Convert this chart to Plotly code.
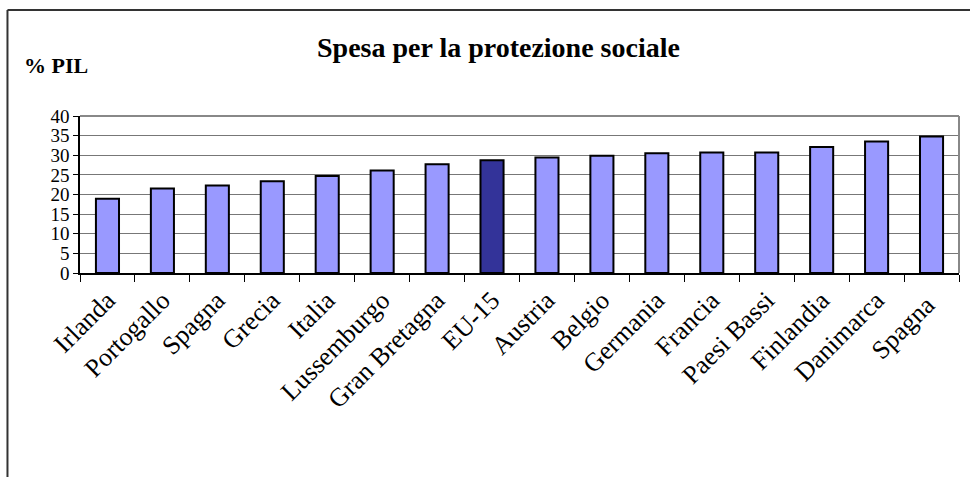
import plotly.graph_objects as go

categories = ["Irlanda", "Portogallo", "Spagna", "Grecia", "Italia", "Lussemburgo",
              "Gran Bretagna", "EU-15", "Austria", "Belgio", "Germania", "Francia",
              "Paesi Bassi", "Finlandia", "Danimarca", "Spagna "]
values = [18.9, 21.5, 22.3, 23.4, 24.7, 26.1, 27.7, 28.7, 29.4, 29.9, 30.5, 30.7,
          30.7, 32.1, 33.5, 34.8]
highlight = "EU-15"
y_ticks = [0, 5, 10, 15, 20, 25, 30, 35, 40]

colors = ["#333399" if c == highlight else "#9999FF" for c in categories]

FONT = "Liberation Serif, Times New Roman, serif"

fig = go.Figure(go.Bar(
    x=categories, y=values,
    marker=dict(color=colors, line=dict(color="black", width=2)),
    width=0.42,
))

L, R, T, B = 80, 11.3, 116, 204
W, H = 970, 477
pw = W - L - R
ph = H - T - B

def px2x(px):
    return (px - L) / pw

def py2y(py):
    return (H - B - py) / ph

fig.update_layout(
    width=W, height=H,
    margin=dict(l=L, r=R, t=T, b=B, pad=0, autoexpand=False),
    paper_bgcolor="white", plot_bgcolor="white",
    showlegend=False,
    font=dict(family=FONT, color="black", size=19),
    xaxis=dict(
        automargin=False,
        tickangle=-45, ticks="outside", tickson="boundaries", ticklen=7,
        tickcolor="black", tickwidth=1,
        showline=True, linecolor="black", linewidth=1.5,
        showgrid=False, tickfont=dict(size=26, family=FONT),
    ),
    yaxis=dict(
        automargin=False,
        range=[0, 40], tickvals=y_ticks, ticks="outside", ticklen=5,
        tickcolor="black", showline=True, linecolor="black", linewidth=1.5,
        showgrid=True, gridcolor="#777777", gridwidth=1,
        tickfont=dict(size=19, family=FONT), zeroline=False,
    ),
    shapes=[
        # plot area top & right border
        dict(type="line", xref="paper", yref="paper", x0=0, x1=1, y0=1, y1=1,
             line=dict(color="#888888", width=2)),
        dict(type="line", xref="paper", yref="paper", x0=1, x1=1, y0=0, y1=1,
             line=dict(color="#888888", width=2)),
        # outer chart frame
        dict(type="line", xref="paper", yref="paper", x0=px2x(7.5), x1=px2x(980),
             y0=py2y(10), y1=py2y(10), line=dict(color="#333333", width=2)),
        dict(type="line", xref="paper", yref="paper", x0=px2x(7.5), x1=px2x(7.5),
             y0=py2y(10), y1=py2y(490), line=dict(color="#333333", width=2)),
    ],
    annotations=[
        dict(text="<b>Spesa per la protezione sociale</b>", xref="paper", yref="paper",
             x=px2x(498), y=py2y(47), xanchor="center", yanchor="middle",
             showarrow=False, font=dict(size=28, family=FONT)),
        dict(text="<b>% PIL</b>", xref="paper", yref="paper",
             x=px2x(22), y=py2y(65), xanchor="left", yanchor="middle",
             showarrow=False, font=dict(size=22, family=FONT)),
    ],
)

fig.write_html("out.html", config={"displayModeBar": False},
               post_script="document.body.style.margin='0';document.body.style.padding='0';")
